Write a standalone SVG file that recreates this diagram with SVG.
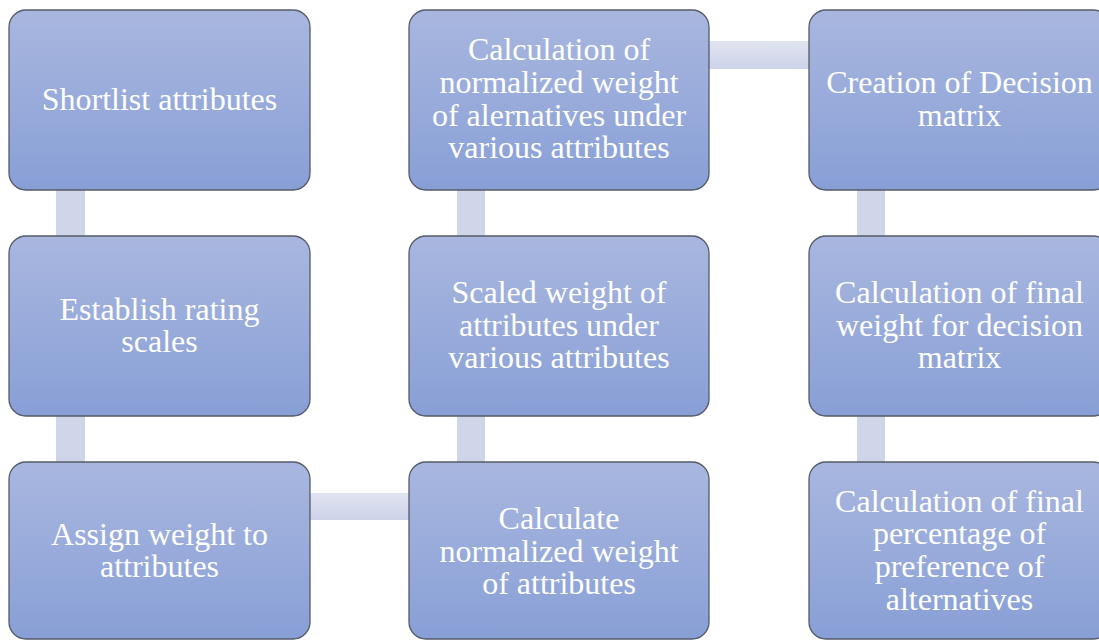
<svg xmlns="http://www.w3.org/2000/svg" width="1099" height="640" viewBox="0 0 1099 640">
<defs>
<linearGradient id="nodeFill" x1="0" y1="0" x2="0" y2="1">
<stop offset="0" stop-color="#A9B7DF"/>
<stop offset="1" stop-color="#889FD6"/>
</linearGradient>
<linearGradient id="hConn" x1="0" y1="0" x2="0" y2="1">
<stop offset="0" stop-color="#E0E4F1"/>
<stop offset="1" stop-color="#CDD3E9"/>
</linearGradient>
</defs>
<style>
.node rect { fill: url(#nodeFill); stroke: #555B68; stroke-width: 1.3; }
.node text { fill: #FFFFFF; font-family: "Liberation Serif", "Times New Roman", serif; font-size: 32px; text-anchor: middle; }
.vc { fill: #D0D6EA; }
.hc { fill: url(#hConn); }
</style>
<rect width="1099" height="640" fill="#FFFFFF"/>
<g id="connectors">
<rect class="vc" x="56" y="188" width="29" height="50"/>
<rect class="vc" x="56" y="414" width="29" height="50"/>
<rect class="hc" x="308" y="493" width="103" height="27"/>
<rect class="vc" x="457" y="414" width="28" height="50"/>
<rect class="vc" x="457" y="188" width="28" height="50"/>
<rect class="hc" x="707" y="41" width="104" height="28"/>
<rect class="vc" x="857" y="188" width="28" height="50"/>
<rect class="vc" x="857" y="414" width="28" height="50"/>
</g>
<g id="n1" class="node">
<rect x="9" y="10" width="301" height="180" rx="17"/>
<text x="159.5" y="110">Shortlist attributes</text>
</g>
<g id="n2" class="node">
<rect x="9" y="236" width="301" height="180" rx="17"/>
<text x="159.5" y="320">Establish rating</text>
<text x="159.5" y="352">scales</text>
</g>
<g id="n3" class="node">
<rect x="9" y="462" width="301" height="177" rx="17"/>
<text x="159.5" y="545">Assign weight to</text>
<text x="159.5" y="577">attributes</text>
</g>
<g id="n4" class="node">
<rect x="409" y="462" width="300" height="177" rx="17"/>
<text x="559" y="529">Calculate</text>
<text x="559" y="562">normalized weight</text>
<text x="559" y="594">of attributes</text>
</g>
<g id="n5" class="node">
<rect x="409" y="236" width="300" height="180" rx="17"/>
<text x="559" y="303">Scaled weight of</text>
<text x="559" y="336">attributes under</text>
<text x="559" y="368">various attributes</text>
</g>
<g id="n6" class="node">
<rect x="409" y="10" width="300" height="180" rx="17"/>
<text x="559" y="60">Calculation of</text>
<text x="559" y="93">normalized weight</text>
<text x="559" y="126">of alernatives under</text>
<text x="559" y="158">various attributes</text>
</g>
<g id="n7" class="node">
<rect x="809" y="10" width="301" height="180" rx="17"/>
<text x="959.5" y="93">Creation of Decision</text>
<text x="959.5" y="126">matrix</text>
</g>
<g id="n8" class="node">
<rect x="809" y="236" width="301" height="180" rx="17"/>
<text x="959.5" y="303">Calculation of final</text>
<text x="959.5" y="336">weight for decision</text>
<text x="959.5" y="368">matrix</text>
</g>
<g id="n9" class="node">
<rect x="809" y="462" width="301" height="177" rx="17"/>
<text x="959.5" y="512">Calculation of final</text>
<text x="959.5" y="544">percentage of</text>
<text x="959.5" y="577">preference of</text>
<text x="959.5" y="610">alternatives</text>
</g>
</svg>
